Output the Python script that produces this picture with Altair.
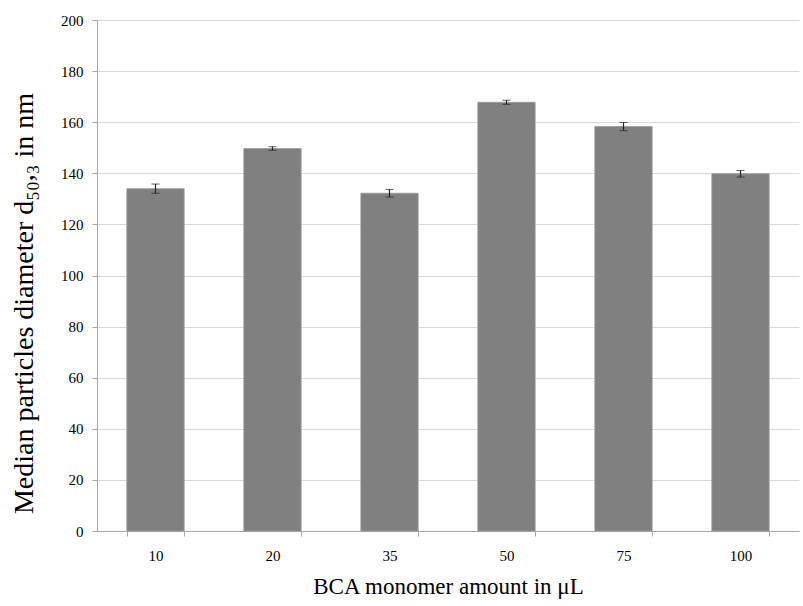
import altair as alt
import pandas as pd

categories = ["10", "20", "35", "50", "75", "100"]
values = [134.0, 149.7, 132.2, 167.8, 158.3, 139.8]
errors = [1.8, 0.7, 1.5, 0.8, 1.6, 1.3]

df = pd.DataFrame({"amount": categories, "d": values, "err": errors})
df["lo"] = df["d"] - df["err"]
df["hi"] = df["d"] + df["err"]

FONT = "Liberation Serif"

x = alt.X("amount:N", sort=categories,
          scale=alt.Scale(paddingInner=0.51, paddingOuter=0.255),
          axis=alt.Axis(title="BCA monomer amount in μL", labelAngle=0,
                        tickBand="extent", titlePadding=12, titleFontSize=23))
yscale = alt.Scale(domain=[0, 200])

bars = alt.Chart(df).mark_bar(color="#808080", stroke="#9a9a9a", strokeWidth=0.8).encode(
    x=x,
    y=alt.Y("d:Q", scale=yscale,
            axis=alt.Axis(title="Median particles diameter d₅₀,₃ in nm",
                          values=list(range(0, 201, 20)), titlePadding=22,
                          titleFontSize=28, titleY=283, labelPadding=9,
                          grid=True)),
)

rules = alt.Chart(df).mark_rule(color="#222222", strokeWidth=1.2).encode(
    x=alt.X("amount:N", sort=categories), y="lo:Q", y2="hi:Q")
caps_lo = alt.Chart(df).mark_tick(color="#222222", thickness=1, size=8).encode(
    x=alt.X("amount:N", sort=categories), y="lo:Q")
caps_hi = alt.Chart(df).mark_tick(color="#222222", thickness=1, size=8).encode(
    x=alt.X("amount:N", sort=categories), y="hi:Q")

chart = alt.layer(bars, rules, caps_lo, caps_hi).properties(
    width=702, height=511,
    autosize=alt.AutoSizeParams(type="none"),
    padding={"left": 97, "top": 20, "right": 4, "bottom": 75},
).configure_view(stroke=None).configure_axis(
    labelFont=FONT, titleFont=FONT, labelFontSize=15,
    titleFontWeight="normal", labelColor="#000000", titleColor="#000000",
    domainColor="#a6a6a6", tickColor="#a6a6a6", gridColor="#d9d9d9",
    tickSize=5,
).configure_axisX(grid=False, labelPadding=12)

chart.save("out.html", embed_options={"renderer": "svg", "actions": False})
